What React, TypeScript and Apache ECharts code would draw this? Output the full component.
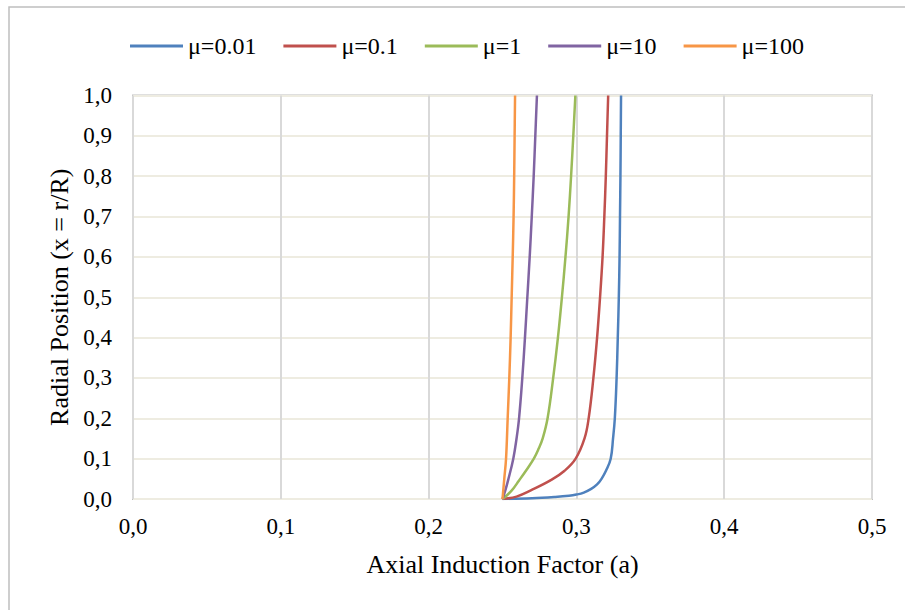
import React, { useEffect, useRef } from "react";
import * as echarts from "echarts";

// Series labels and colours
const seriesNames = ["μ=0.01", "μ=0.1", "μ=1", "μ=10", "μ=100"];
const seriesColors = ["#4F81BD", "#C0504D", "#9BBB59", "#8064A2", "#F79646"];

// μ=0.01 : axial induction factor (a) vs radial position (x)
const mu001A = [0.25, 0.27, 0.285, 0.295, 0.3, 0.305, 0.31, 0.314, 0.317, 0.32, 0.3232, 0.3248, 0.326, 0.3272, 0.328, 0.3287, 0.3292, 0.3295, 0.3298, 0.33, 0.3302];
const mu001X = [0, 0.002, 0.005, 0.008, 0.011, 0.016, 0.025, 0.036, 0.05, 0.07, 0.1, 0.15, 0.2, 0.3, 0.4, 0.5, 0.6, 0.7, 0.8, 0.9, 1.0];

// μ=0.1
const mu01A = [0.25, 0.2595, 0.2695, 0.2833, 0.292, 0.2995, 0.3055, 0.3083, 0.3115, 0.314, 0.316, 0.3177, 0.3189, 0.3199, 0.3207, 0.3215];
const mu01X = [0, 0.006, 0.022, 0.048, 0.07, 0.1, 0.15, 0.2, 0.3, 0.4, 0.5, 0.6, 0.7, 0.8, 0.9, 1.0];

// μ=1
const mu1A = [0.25, 0.256, 0.2612, 0.2662, 0.2712, 0.2745, 0.2772, 0.2805, 0.2843, 0.2875, 0.2902, 0.2926, 0.2947, 0.2964, 0.2979, 0.2993];
const mu1X = [0, 0.02, 0.046, 0.072, 0.1, 0.125, 0.15, 0.2, 0.3, 0.4, 0.5, 0.6, 0.7, 0.8, 0.9, 1.0];

// μ=10
const mu10A = [0.25, 0.2518, 0.2539, 0.2573, 0.2595, 0.2612, 0.2634, 0.2652, 0.2668, 0.2684, 0.2698, 0.2711, 0.2722, 0.2733];
const mu10X = [0, 0.02, 0.048, 0.1, 0.15, 0.2, 0.3, 0.4, 0.5, 0.6, 0.7, 0.8, 0.9, 1.0];

// μ=100
const mu100A = [0.25, 0.2512, 0.2524, 0.2535, 0.2546, 0.2555, 0.2562, 0.2569, 0.2575, 0.2579, 0.2582, 0.2585];
const mu100X = [0, 0.05, 0.1, 0.2, 0.3, 0.4, 0.5, 0.6, 0.7, 0.8, 0.9, 1.0];

const xTitle = "Axial Induction Factor (a)";
const yTitle = "Radial Position (x = r/R)";

const FONT = "'Liberation Serif', 'Times New Roman', serif";

function pairs(a: number[], x: number[]) {
  return a.map((v, i) => [v, x[i]]);
}

export default function App() {
  const ref = useRef<HTMLDivElement>(null);

  useEffect(() => {
    if (!ref.current) return;
    const chart = echarts.init(ref.current, undefined, { renderer: "svg" });
    const allA = [mu001A, mu01A, mu1A, mu10A, mu100A];
    const allX = [mu001X, mu01X, mu1X, mu10X, mu100X];
    const fmt = (v: number) => v.toFixed(1).replace(".", ",");

    chart.setOption({
      animation: false,
      backgroundColor: "#ffffff",
      textStyle: { fontFamily: FONT },
      graphic: [
        {
          type: "rect",
          shape: { x: 9, y: 7, width: 1000, height: 1000 },
          style: { fill: "none", stroke: "#BFBFBF", lineWidth: 1.5 },
          silent: true,
        },
      ],
      legend: {
        left: 130,
        top: 34,
        padding: 0,
        itemWidth: 53,
        itemHeight: 3,
        itemGap: 27,
        icon: "rect",
        textStyle: { fontFamily: FONT, fontSize: 24, color: "#000" },
        data: seriesNames,
      },
      grid: {
        left: 133,
        right: 33,
        top: 95.5,
        bottom: 111,
        show: true,
        borderColor: "#BFBFBF",
        borderWidth: 2,
        backgroundColor: "transparent",
      },
      xAxis: {
        type: "value",
        min: 0,
        max: 0.5,
        interval: 0.1,
        name: xTitle,
        nameLocation: "middle",
        nameGap: 52,
        nameTextStyle: { fontFamily: FONT, fontSize: 26, color: "#000" },
        axisLine: { show: false },
        axisTick: { show: false },
        axisLabel: { formatter: fmt, fontFamily: FONT, fontSize: 23, color: "#000", margin: 16 },
        splitLine: { show: true, lineStyle: { color: "#D9D9D9", width: 2 } },
      },
      yAxis: {
        type: "value",
        min: 0,
        max: 1,
        interval: 0.1,
        name: yTitle,
        nameLocation: "middle",
        nameGap: 58,
        nameRotate: 90,
        nameTextStyle: { fontFamily: FONT, fontSize: 26, color: "#000" },
        axisLine: { show: false },
        axisTick: { show: false },
        axisLabel: { formatter: fmt, fontFamily: FONT, fontSize: 23, color: "#000", margin: 21 },
        splitLine: { show: true, lineStyle: { color: "#EEECE1", width: 2 } },
      },
      series: seriesNames.map((n, i) => ({
        name: n,
        type: "line",
        data: pairs(allA[i], allX[i]),
        symbol: "none",
        smooth: 0.4,
        color: seriesColors[i],
        lineStyle: { color: seriesColors[i], width: 2.5 },
        itemStyle: { color: seriesColors[i] },
        z: 3,
      })),
    });

    return () => chart.dispose();
  }, []);

  return (
    <div
      ref={ref}
      style={{ position: "fixed", left: 0, top: 0, width: 905, height: 610 }}
    />
  );
}
